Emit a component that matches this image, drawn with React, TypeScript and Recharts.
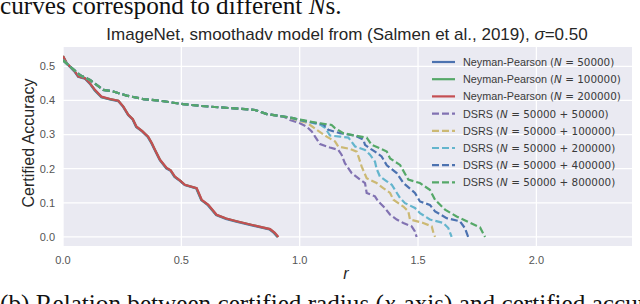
import React from 'react';
import { LineChart, Line, XAxis, YAxis, CartesianGrid, Legend } from 'recharts';

type Pt = { r: number; acc: number };
const toPts = (a: number[][]): Pt[] => a.map(([r, acc]) => ({ r, acc }));

// Neyman-Pearson curves (r, certified accuracy)
const npN50000 = [
  [0, 0.529], [0.016, 0.508], [0.05, 0.483], [0.064, 0.469], [0.092, 0.464], [0.113, 0.449],
  [0.134, 0.429], [0.162, 0.409], [0.198, 0.403], [0.233, 0.398], [0.254, 0.381], [0.275, 0.357],
  [0.294, 0.344], [0.309, 0.322], [0.334, 0.309], [0.358, 0.293], [0.374, 0.274], [0.388, 0.254],
  [0.409, 0.225], [0.436, 0.201], [0.454, 0.194], [0.471, 0.176], [0.494, 0.164], [0.514, 0.152],
  [0.563, 0.142], [0.584, 0.108], [0.612, 0.093], [0.647, 0.064], [0.688, 0.053], [0.732, 0.045],
  [0.798, 0.034], [0.872, 0.022], [0.892, 0.011], [0.906, 0],
];
const npN100000 = [
  [0, 0.53], [0.016, 0.509], [0.051, 0.484], [0.065, 0.47], [0.093, 0.465], [0.114, 0.45],
  [0.135, 0.43], [0.163, 0.41], [0.199, 0.404], [0.234, 0.399], [0.255, 0.382], [0.276, 0.358],
  [0.295, 0.345], [0.31, 0.323], [0.335, 0.31], [0.359, 0.294], [0.375, 0.275], [0.389, 0.255],
  [0.41, 0.226], [0.437, 0.202], [0.455, 0.195], [0.472, 0.177], [0.495, 0.165], [0.515, 0.153],
  [0.564, 0.143], [0.585, 0.109], [0.613, 0.094], [0.648, 0.065], [0.689, 0.054], [0.733, 0.046],
  [0.799, 0.035], [0.874, 0.023], [0.894, 0.012], [0.908, 0],
];
const npN200000 = [
  [0, 0.53], [0.016, 0.509], [0.051, 0.484], [0.065, 0.47], [0.093, 0.465], [0.114, 0.45],
  [0.135, 0.431], [0.163, 0.411], [0.199, 0.404], [0.234, 0.399], [0.255, 0.382], [0.276, 0.358],
  [0.295, 0.345], [0.311, 0.323], [0.335, 0.31], [0.36, 0.294], [0.375, 0.275], [0.389, 0.255],
  [0.41, 0.226], [0.438, 0.202], [0.455, 0.195], [0.473, 0.177], [0.495, 0.165], [0.515, 0.153],
  [0.565, 0.143], [0.586, 0.109], [0.614, 0.094], [0.649, 0.065], [0.69, 0.054], [0.734, 0.046],
  [0.8, 0.035], [0.875, 0.023], [0.895, 0.012], [0.91, 0],
];

// DSRS curves share the same head
const dsrsHead = [
  [0, 0.518], [0.03, 0.499], [0.072, 0.474], [0.114, 0.46], [0.17, 0.431], [0.213, 0.426],
  [0.269, 0.414], [0.339, 0.404], [0.41, 0.399], [0.508, 0.389], [0.579, 0.384], [0.656, 0.38],
  [0.755, 0.375], [0.811, 0.372], [0.861, 0.36], [0.931, 0.353],
];
const dsrs50000Tail = [
  [0.959, 0.343], [1.001, 0.333], [1.03, 0.323], [1.051, 0.309], [1.065, 0.294], [1.086, 0.272],
  [1.128, 0.262], [1.163, 0.255], [1.177, 0.241], [1.191, 0.216], [1.22, 0.187], [1.255, 0.168],
  [1.276, 0.158], [1.283, 0.129], [1.318, 0.119], [1.332, 0.104], [1.36, 0.085], [1.382, 0.065],
  [1.41, 0.051], [1.438, 0.041], [1.473, 0.031], [1.487, 0.016], [1.494, 0],
];
const dsrs100000Tail = [
  [0.973, 0.346], [1.0, 0.34], [1.03, 0.335], [1.072, 0.314], [1.114, 0.294], [1.149, 0.28],
  [1.163, 0.265], [1.212, 0.258], [1.241, 0.25], [1.248, 0.236], [1.262, 0.206], [1.283, 0.172],
  [1.325, 0.158], [1.353, 0.143], [1.382, 0.129], [1.396, 0.109], [1.438, 0.089], [1.459, 0.075],
  [1.466, 0.051], [1.522, 0.041], [1.558, 0.031], [1.565, 0.012], [1.572, 0],
];
const dsrs200000Tail = [
  [0.973, 0.347], [1.0, 0.342], [1.05, 0.335], [1.09, 0.328], [1.107, 0.32], [1.128, 0.297],
  [1.17, 0.294], [1.206, 0.291], [1.234, 0.265], [1.276, 0.255], [1.297, 0.241], [1.318, 0.221],
  [1.325, 0.2], [1.339, 0.177], [1.368, 0.163], [1.389, 0.153], [1.424, 0.114], [1.445, 0.099],
  [1.487, 0.085], [1.508, 0.07], [1.55, 0.051], [1.607, 0.041], [1.628, 0.026], [1.642, 0],
];
const dsrs400000Tail = [
  [0.973, 0.348], [1.0, 0.343], [1.05, 0.336], [1.1, 0.33], [1.121, 0.314], [1.17, 0.304],
  [1.234, 0.297], [1.269, 0.285], [1.276, 0.27], [1.3, 0.258], [1.318, 0.25], [1.346, 0.236],
  [1.368, 0.21], [1.41, 0.187], [1.438, 0.158], [1.487, 0.129], [1.508, 0.104], [1.55, 0.094],
  [1.572, 0.075], [1.621, 0.055], [1.677, 0.046], [1.698, 0.026], [1.712, 0],
];
const dsrs800000Tail = [
  [0.973, 0.348], [1.03, 0.34], [1.086, 0.333], [1.135, 0.328], [1.149, 0.319], [1.184, 0.304],
  [1.234, 0.297], [1.283, 0.291], [1.304, 0.27], [1.339, 0.26], [1.368, 0.25], [1.382, 0.23],
  [1.424, 0.211], [1.459, 0.168], [1.508, 0.158], [1.55, 0.138], [1.572, 0.109], [1.614, 0.08],
  [1.663, 0.06], [1.706, 0.046], [1.762, 0.028], [1.783, 0],
];

const xTicks = [0, 0.5, 1.0, 1.5, 2.0];
const yTicks = [0, 0.1, 0.2, 0.3, 0.4, 0.5];

const seriesNames = ['Neyman-Pearson', 'Neyman-Pearson', 'Neyman-Pearson', 'DSRS', 'DSRS', 'DSRS', 'DSRS', 'DSRS'];
const seriesN = ['50000', '100000', '200000', '50000 + 50000', '50000 + 100000', '50000 + 200000', '50000 + 400000', '50000 + 800000'];
const seriesColors = ['#4C72B0', '#55A868', '#C44E52', '#8172B2', '#CCB974', '#64B5CD', '#4C72B0', '#55A868'];
const seriesDashed = [false, false, false, true, true, true, true, true];
const seriesData: Pt[][] = [
  toPts(npN50000),
  toPts(npN100000),
  toPts(npN200000),
  toPts([...dsrsHead, ...dsrs50000Tail]),
  toPts([...dsrsHead, ...dsrs100000Tail]),
  toPts([...dsrsHead, ...dsrs200000Tail]),
  toPts([...dsrsHead, ...dsrs400000Tail]),
  toPts([...dsrsHead, ...dsrs800000Tail]),
];

const W = 640;
const H = 304;
const DASH = '7 3';
const LW = 2.2;

const renderLegend = () => (
  <svg width={210} height={145} style={{ display: 'block', overflow: 'visible' }}>
    {seriesNames.map((name, i) => {
      const y = 9 + i * 17.2;
      return (
        <g key={i}>
          <line x1={4} x2={27} y1={y} y2={y} stroke={seriesColors[i]} strokeWidth={LW}
            strokeDasharray={seriesDashed[i] ? DASH : undefined} />
          <text x={35} y={y} dominantBaseline="central" fill="#3a3a3a" style={{ whiteSpace: 'pre' }}>
            <tspan fontFamily="Liberation Sans" fontSize={10.8}>{name + ' '}</tspan>
            <tspan fontFamily="DejaVu Sans" fontSize={10.4}>(</tspan>
            <tspan fontFamily="DejaVu Sans" fontSize={10.4} fontStyle="italic">N</tspan>
            <tspan fontFamily="DejaVu Sans" fontSize={10.4}>{' = ' + seriesN[i] + ')'}</tspan>
          </text>
        </g>
      );
    })}
  </svg>
);

export default function App() {
  return (
    <div style={{ position: 'absolute', left: 0, top: 0, width: W, height: H, background: '#fff', overflow: 'hidden' }}>
      <LineChart width={W} height={H} margin={{ top: 47, right: 8, bottom: 38, left: 33 }}>
        <CartesianGrid fill="#EAEAF2" stroke="#ffffff" strokeWidth={1.3} horizontalValues={yTicks} verticalValues={xTicks} />
        <XAxis type="number" dataKey="r" domain={[0, 2.404]} ticks={xTicks} allowDataOverflow
          tickFormatter={(v: number) => v.toFixed(1)} axisLine={false} tickLine={false} tickSize={0} tickMargin={10}
          height={20} tick={{ fontFamily: 'Liberation Sans', fontSize: 11, fill: '#555' }} />
        <YAxis type="number" dataKey="acc" domain={[-0.0265, 0.5565]} ticks={yTicks} allowDataOverflow
          tickFormatter={(v: number) => v.toFixed(1)} axisLine={false} tickLine={false} tickSize={0} tickMargin={8}
          width={30} tick={{ fontFamily: 'Liberation Sans', fontSize: 11, fill: '#555' }} />
        {seriesData.map((d, i) => (
          <Line key={i} data={d} dataKey="acc" type="linear" stroke={seriesColors[i]} strokeWidth={LW}
            strokeDasharray={seriesDashed[i] ? DASH : undefined} dot={false} activeDot={false}
            isAnimationActive={false} />
        ))}
        <Legend layout="vertical" verticalAlign="middle" align="center" content={renderLegend}
          wrapperStyle={{ position: 'absolute', left: 428, top: 53, width: 210, height: 145 }} />
      </LineChart>
      <svg width={W} height={H} style={{ position: 'absolute', left: 0, top: 0, pointerEvents: 'none' }}>
        <text x={0} y={14} fontFamily="Liberation Serif" fontSize={25.2} fill="#111">
          curves correspond to different <tspan fontStyle="italic">N</tspan>s.
        </text>
        <text x={347} y={40} textAnchor="middle" fontFamily="Liberation Sans" fontSize={17} fill="#262626">
          ImageNet, smoothadv model from (Salmen et al., 2019), <tspan fontStyle="italic">σ</tspan>=0.50
        </text>
        <text x={33.5} y={143} textAnchor="middle" transform="rotate(-90 33.5 143)" fontFamily="Liberation Sans"
          fontSize={16} fill="#262626">Certified Accuracy</text>
        <text x={346} y={278.5} textAnchor="middle" fontFamily="Liberation Sans" fontStyle="italic" fontSize={16}
          fill="#262626">r</text>
        <text x={0} y={312} fontFamily="Liberation Serif" fontSize={25.2} fill="#111">
          (b) Relation between certified radius (<tspan fontStyle="italic">x</tspan>-axis) and certified accuracy
        </text>
      </svg>
    </div>
  );
}
